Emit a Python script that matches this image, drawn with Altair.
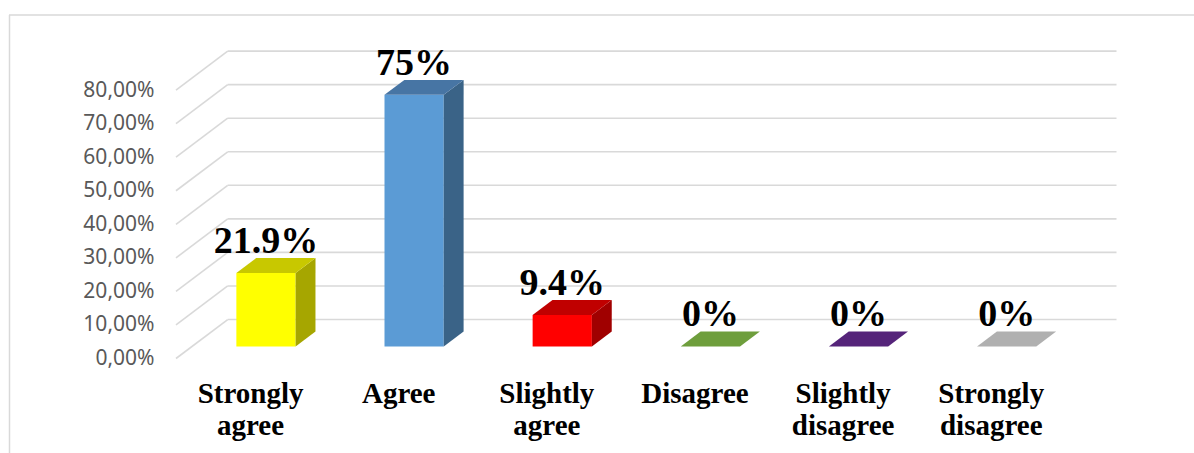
import json
import altair as alt
import pandas as pd

# ---------------- data ----------------
categories = ["Strongly agree", "Agree", "Slightly agree", "Disagree",
              "Slightly disagree", "Strongly disagree"]
percent_values = [21.9, 75.0, 9.4, 0.0, 0.0, 0.0]
y_ticks = [0, 10, 20, 30, 40, 50, 60, 70, 80]

# ---------------- styles ----------------
front_colors = ["#FFFF00", "#5B9BD5", "#FF0000", "#70AD47", "#5B2C86", "#A5A5A5"]
top_colors = ["#C8C800", "#4775A4", "#C00000", "#6E9E3C", "#55247A", "#B0B0B0"]
side_colors = ["#A6A600", "#3A6387", "#A00000", "#4E7A30", "#3C1A5A", "#7C7C7C"]
GRID_COLOR = "#D9D9D9"

# 3-D geometry (category units on x, percent units on y)
DEPTH_X = 0.349
DEPTH_Y = 11.62
F_FRONT = 0.308
F_BACK = 0.692
HALF_W = 0.2
X_MIN = -0.5
X_MAX = len(categories) - 0.5 + DEPTH_X
Y_MAX = 100

PAD_L, PAD_T = 176, 23
W, H = 940.5, 335.5
PAD_R = 1194 - PAD_L - W
PAD_B = 453 - PAD_T - H

# ---------------- derived tables ----------------
front_rows, side_rows, top_rows, label_rows = [], [], [], []
for i, (cat, v) in enumerate(zip(categories, percent_values)):
    xf = i + F_FRONT * DEPTH_X
    xb = i + F_BACK * DEPTH_X
    yf = F_FRONT * DEPTH_Y
    yb = F_BACK * DEPTH_Y
    front_rows.append(dict(cat=cat, x=xf - HALF_W, x2=xf + HALF_W, y=yf, y2=v + yf,
                           fill=front_colors[i]))
    side_rows.append(dict(cat=cat, x=xf + HALF_W, y=yf, y2=v + yf, fill=side_colors[i]))
    side_rows.append(dict(cat=cat, x=xb + HALF_W, y=yb, y2=v + yb, fill=side_colors[i]))
    top_rows.append(dict(cat=cat, y=v + yf, x=xf - HALF_W, x2=xf + HALF_W, fill=top_colors[i]))
    top_rows.append(dict(cat=cat, y=v + yb, x=xb - HALF_W, x2=xb + HALF_W, fill=top_colors[i]))
    label_rows.append(dict(cat=cat, v=v, x=xf, y=v + yf))

grid_rows = []
for t in y_ticks:
    grid_rows.append(dict(x=X_MIN, x2=X_MIN + DEPTH_X, y=t, y2=t + DEPTH_Y))
    grid_rows.append(dict(x=X_MIN + DEPTH_X, x2=X_MAX, y=t + DEPTH_Y, y2=t + DEPTH_Y))

front_df = pd.DataFrame(front_rows)
side_df = pd.DataFrame(side_rows)
top_df = pd.DataFrame(top_rows)
label_df = pd.DataFrame(label_rows)
grid_df = pd.DataFrame(grid_rows)

x_scale = alt.Scale(domain=[X_MIN, X_MAX], nice=False, zero=False)
y_scale = alt.Scale(domain=[0, Y_MAX], nice=False, zero=False)

cat_js = json.dumps(categories)
x_axis = alt.Axis(
    values=list(range(len(categories))),
    labelExpr=f"split({cat_js}[datum.value], ' ')",
    domain=False, ticks=False, grid=False, title=None,
    labelFont="Liberation Serif", labelFontWeight="bold", labelFontSize=29,
    labelColor="#000000", labelLineHeight=32, labelBaseline="alphabetic",
    labelPadding=44, labelOverlap=False, labelFlush=False, labelBound=False,
)
y_axis = alt.Axis(
    values=y_ticks,
    labelExpr="replace(format(datum.value, '.2f'), '.', ',') + '%'",
    domain=False, ticks=False, grid=False, title=None,
    labelFont="Noto Sans", labelFontSize=21, labelColor="#595959",
    labelPadding=22, labelOverlap=False, labelFlush=False, labelBaseline="middle",
)

def X(field):
    return alt.X(field, type="quantitative", scale=x_scale, axis=x_axis)

def Y(field):
    return alt.Y(field, type="quantitative", scale=y_scale, axis=y_axis)

# frame (decoration)
frame_df = pd.DataFrame({"k": [0]})
frame_top = alt.Chart(frame_df).mark_rule(color=GRID_COLOR, strokeWidth=1.5).encode(
    x=alt.value(9 - PAD_L), x2=alt.value(1194 - PAD_L + 10), y=alt.value(15 - PAD_T))
frame_left = alt.Chart(frame_df).mark_rule(color=GRID_COLOR, strokeWidth=1.5).encode(
    x=alt.value(9.5 - PAD_L), y=alt.value(15 - PAD_T), y2=alt.value(453 - PAD_T + 10))

grid = alt.Chart(grid_df).mark_rule(color=GRID_COLOR, strokeWidth=1.6).encode(
    x=X("x"), x2="x2", y=Y("y"), y2="y2")

front = alt.Chart(front_df).mark_rect().encode(
    x=X("x"), x2="x2", y=Y("y"), y2="y2",
    color=alt.Color("fill:N", scale=None))

side = alt.Chart(side_df).mark_area().encode(
    x=X("x"), y=Y("y"), y2="y2", detail="cat:N",
    color=alt.Color("fill:N", scale=None))

top = alt.Chart(top_df).mark_area(orient="horizontal").encode(
    y=Y("y"), x=X("x"), x2="x2", detail="cat:N",
    color=alt.Color("fill:N", scale=None))

labels = alt.Chart(label_df).transform_calculate(
    label="format(datum.v, '.1~f') + '%'"
).mark_text(font="Liberation Serif", fontWeight="bold", fontSize=38,
            baseline="alphabetic", align="center", dy=-20, color="#000000").encode(
    x=X("x"), y=Y("y"), text="label:N")

chart = alt.layer(
    frame_top, frame_left, grid, front, side, top, labels
).properties(
    width=W, height=H,
    autosize=alt.AutoSizeParams(type="none"),
    padding={"left": PAD_L, "top": PAD_T, "right": PAD_R, "bottom": PAD_B},
    background="#FFFFFF",
).configure_view(stroke=None)

chart.save("out.html", embed_options={"renderer": "svg", "actions": False})
